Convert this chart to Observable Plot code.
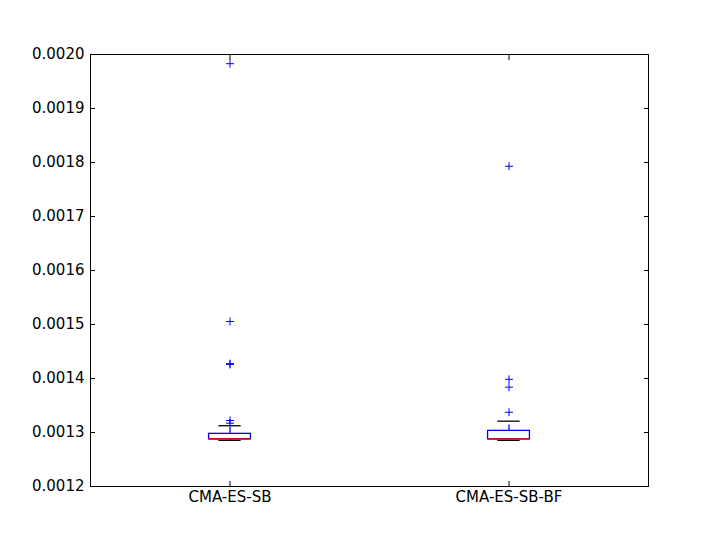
<!DOCTYPE html>
<html><head><meta charset="utf-8">
<script src="https://cdn.jsdelivr.net/npm/d3@7"></script>
<script src="https://cdn.jsdelivr.net/npm/@observablehq/plot@0.6"></script>
<style>body{margin:0;background:#fff}</style>
</head><body><div id="chart"></div>
<script>
const categories = ["CMA-ES-SB", "CMA-ES-SB-BF"];
const positions = [1, 2];
const q1 = [0.0012875, 0.0012875];
const medians = [0.001288, 0.001288];
const q3 = [0.0012975, 0.001303];
const whiskerLow = [0.0012855, 0.0012855];
const whiskerHigh = [0.0013125, 0.001321];
const outliers1 = [0.0013222, 0.0013172, 0.001426, 0.0014275, 0.0015055, 0.001983];
const outliers2 = [0.0013375, 0.001384, 0.0013985, 0.001793];
const yTicks = [0.0012, 0.0013, 0.0014, 0.0015, 0.0016, 0.0017, 0.0018, 0.0019, 0.0020];

const boxW = 0.075, capW = 0.04;
const boxes = categories.map((c, i) => ({c, x: positions[i], q1: q1[i], med: medians[i], q3: q3[i], lo: whiskerLow[i], hi: whiskerHigh[i]}));
const fliers = [
  ...outliers1.map(v => ({x: positions[0], v})),
  ...outliers2.map(v => ({x: positions[1], v}))
];
const plusSymbol = {draw(ctx, size) { const r = Math.sqrt(size / Math.PI); ctx.moveTo(-r, 0); ctx.lineTo(r, 0); ctx.moveTo(0, -r); ctx.lineTo(0, r); }};

const chart = Plot.plot({
  width: 720, height: 540,
  marginLeft: 90, marginRight: 72, marginTop: 54, marginBottom: 54,
  style: {fontFamily: "DejaVu Sans", fontSize: "15px", color: "#000", background: "#fff"},
  x: {domain: [0.5, 2.5]},
  y: {domain: [0.0012, 0.0020]},
  marks: [
    Plot.axisY({ticks: yTicks, tickSize: 0, tickPadding: 6, tickFormat: d3.format(".4f"), label: null, fontSize: 15}),
    Plot.axisY({ticks: yTicks, anchor: "left", tickSize: -5, tickFormat: () => "", label: null}),
    Plot.axisY({ticks: yTicks, anchor: "right", tickSize: -5, tickFormat: () => "", label: null}),
    Plot.axisX({ticks: positions, tickSize: 0, tickPadding: 5, tickFormat: d => categories[positions.indexOf(d)], label: null, fontSize: 15}),
    Plot.axisX({ticks: positions, anchor: "bottom", tickSize: -5, tickFormat: () => "", label: null}),
    Plot.axisX({ticks: positions, anchor: "top", tickSize: -5, tickFormat: () => "", label: null}),
    Plot.ruleX(boxes, {x: "x", y1: "q3", y2: "hi", stroke: "#0000ff", strokeWidth: 1.3, strokeDasharray: "6,6"}),
    Plot.ruleX(boxes, {x: "x", y1: "lo", y2: "q1", stroke: "#0000ff", strokeWidth: 1.3, strokeDasharray: "6,6"}),
    Plot.ruleY(boxes, {y: "hi", x1: d => d.x - capW, x2: d => d.x + capW, stroke: "#000", strokeWidth: 1.3}),
    Plot.ruleY(boxes, {y: "lo", x1: d => d.x - capW, x2: d => d.x + capW, stroke: "#000", strokeWidth: 1.3}),
    Plot.rect(boxes, {x1: d => d.x - boxW, x2: d => d.x + boxW, y1: "q1", y2: "q3", fill: "none", stroke: "#0000ff", strokeWidth: 1.3}),
    Plot.ruleY(boxes, {y: "med", x1: d => d.x - boxW, x2: d => d.x + boxW, stroke: "#ff0000", strokeWidth: 1.3}),
    Plot.dot(fliers, {x: "x", y: "v", symbol: plusSymbol, r: 4, stroke: "#0000ff", fill: "none", strokeWidth: 1}),
    Plot.frame({stroke: "#000"})
  ]
});
document.getElementById("chart").appendChild(chart);
</script>
</body></html>
